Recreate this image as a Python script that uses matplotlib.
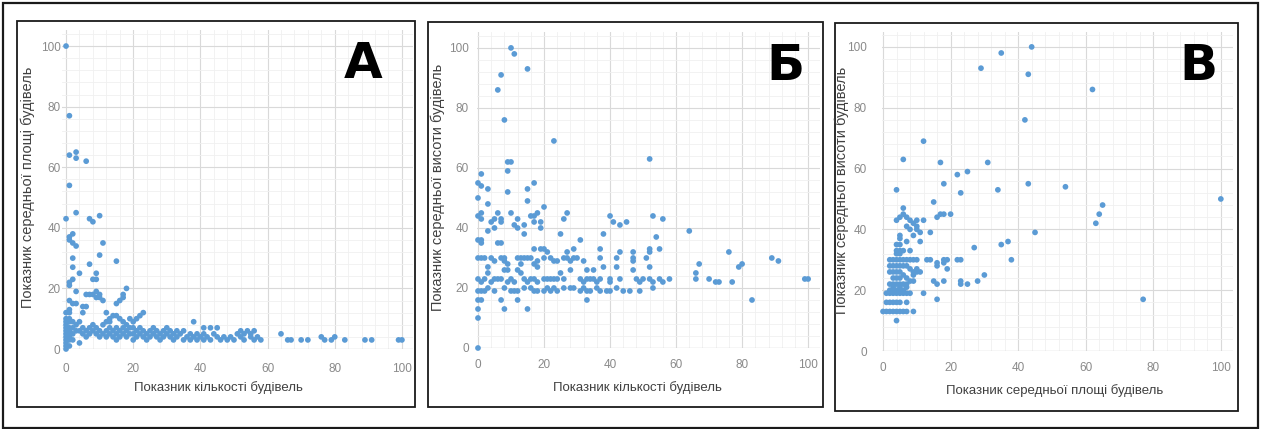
import matplotlib
matplotlib.use("Agg")
import matplotlib.pyplot as plt
from matplotlib.patches import Rectangle
from matplotlib.ticker import MultipleLocator

plt.rcParams['font.family'] = ['Liberation Sans', 'DejaVu Sans']

# panel A: buildings count index vs mean area index
a_pts = [(0,100),(1,77),(1,64),(3,65),(3,63),(6,62),(1,54),(0,43),(3,45),(7,43),(8,42),(10,44),
         (1,37),(2,38),(1,36),(2,35),(3,34),(11,35),(10,31),(15,29),(2,30),(7,28),(2,27),(4,25),
         (9,25),(9,23),(8,23),(1,22),(2,23),(1,21),(3,19),(2,15),(3,15),(1,16),(0,12),(1,13),(1,12),
         (6,18),(7,18),(8,18),(9,17),(9,19),(10,17),(11,16),(10,18),
         (18,20),(17,18),(17,17),(15,15),(16,16),
         (5,14),(6,14),(5,12),(4,9),(2,9),
         (12,12),(13,10),(14,11),(15,11),(12,9),(13,9),(16,10),
         (23,12),(22,11),(21,10),(19,10),(17,9),(20,9),(18,8),
         (38,9),(41,7),(43,7),(45,7),
         (0,0),(0,1),(0,2),(0,3),(0,4),(0,5),(0,6),(0,7),(0,8),(0,9),(0,10),
         (1,1),(1,3),(1,5),(1,7),(1,9),(1,10),(1,4),(1,6),(2,5),(2,7),(2,3),(3,6),(3,8),
         (4,2),(4,6),(5,7),(5,5),(6,4),(6,6),(7,5),(7,7),(8,6),(8,8),(9,5),(9,7),(10,6),(10,4),
         (11,8),(11,5),(12,6),(12,4),(13,5),(13,7),(14,4),(14,6),(15,3),(15,5),(15,7),(16,4),
         (16,6),(17,5),(17,7),(18,4),(18,6),(19,5),(19,7),(20,3),(20,5),(20,7),(21,4),(21,6),
         (22,5),(22,7),(23,4),(23,6),(24,5),(24,3),(25,6),(25,4),(26,5),(26,7),(27,4),(27,6),
         (28,5),(28,3),(29,6),(29,4),(30,5),(30,7),(31,4),(31,6),(32,5),(32,3),(33,4),(33,6),
         (34,5),(35,3),(35,6),(36,4),(37,5),(37,3),(38,4),(39,5),(39,3),(40,4),(41,5),(41,3),
         (42,4),(43,3),(44,5),(45,4),(46,3),(47,4),(48,3),(49,4),(50,3),(51,5),(52,6),(52,4),
         (53,5),(53,3),(54,6),(55,5),(55,4),(56,6),(56,3),(57,4),(58,3),
         (64,5),(66,3),(67,3),(70,3),(72,3),(76,4),(77,3),(79,3),(80,4),(83,3),(89,3),(91,3),
         (99,3),(100,3)]

# panel Б: buildings count index vs mean height index
b_pts = [(10,100),(11,98),(15,93),(7,91),(6,86),(8,76),(23,69),(52,63),(9,62),(10,62),(9,59),
         (1,58),(0,55),(1,54),(9,52),(3,53),(15,53),(17,55),(0,50),(3,48),(15,49),(20,47),
         (0,44),(1,45),(1,43),(4,42),(5,43),(6,45),(7,43),(7,42),(5,40),(3,39),(10,45),(11,41),
         (12,40),(12,43),(14,41),(14,38),(16,44),(17,44),(18,45),(17,42),(19,42),(19,40),
         (25,38),(26,43),(27,45),(31,36),(40,44),(41,42),(43,41),(45,42),(38,38),(53,44),
         (56,43),(54,37),(64,39),
         (0,36),(1,36),(1,35),(6,35),(7,35),(2,30),(0,30),(1,30),(3,27),(4,30),(5,29),(7,30),
         (8,30),(8,29),(9,28),(9,26),(12,30),(13,30),(14,30),(15,30),(12,26),(13,28),(17,33),
         (19,33),(18,29),(17,28),(18,27),(16,30),(20,33),(21,32),(20,30),(22,30),(23,29),
         (24,29),(26,30),(27,30),(27,32),(28,26),(29,33),(29,30),(30,30),(28,29),(32,29),
         (33,26),(35,26),(37,33),(37,30),(38,27),(42,30),(42,27),(43,32),(47,32),(47,30),
         (47,29),(47,26),(51,30),(52,33),(52,32),(55,33),(52,27),
         (0,23),(1,22),(2,23),(3,25),(4,22),(5,23),(6,23),(7,23),(8,26),(9,22),(10,23),(11,22),
         (13,25),(14,23),(15,22),(16,23),(17,23),(18,22),(20,23),(21,23),(22,23),(23,23),
         (24,23),(25,25),(26,23),(31,23),(32,22),(33,23),(34,23),(35,23),(36,22),(37,23),
         (40,23),(40,22),(43,23),(48,23),(49,22),(50,23),(52,23),(53,22),(55,23),(56,22),
         (58,23),(66,25),(66,23),(67,28),(70,23),(72,22),(73,22),(76,32),(77,22),(79,27),
         (80,28),(89,30),(91,29),(99,23),(100,23),(83,16),
         (0,19),(1,19),(2,19),(3,20),(5,19),(8,20),(10,19),(11,19),(12,19),(14,20),(16,20),
         (17,19),(18,19),(20,19),(21,20),(22,19),(23,20),(24,19),(26,20),(28,20),(29,20),
         (31,19),(32,20),(33,19),(34,19),(36,20),(37,19),(39,19),(40,19),(42,20),(44,19),
         (46,19),(49,19),(53,20),
         (0,16),(1,16),(0,13),(0,10),(0,0),(7,16),(8,13),(15,13),(12,16),(33,16)]

# panel В: mean area index vs mean height index
c_pts = [(44,100),(35,98),(29,93),(43,91),(62,86),(42,76),(12,69),(6,63),(17,62),(31,62),
         (22,58),(25,59),(4,53),(23,52),(34,53),(18,55),(43,55),(54,54),(100,50),(15,49),
         (65,48),(64,45),(63,42),
         (6,47),(5,44),(6,45),(7,44),(8,43),(4,43),(17,45),(18,45),(20,45),(16,44),(12,43),
         (9,42),(10,41),(10,40),(10,43),(11,39),(9,38),(11,36),(14,39),(7,41),(8,40),(5,38),
         (5,37),(7,36),(8,33),(45,39),(37,36),(35,35),(27,34),(38,30),(4,35),(5,35),
         (22,30),(23,30),(13,30),(14,30),(10,30),(18,30),(18,29),(16,29),(16,28),(19,27),
         (19,30),(9,30),(8,30),(7,30),(6,30),(5,30),(4,30),(3,30),(2,30),
         (30,25),(28,23),(23,23),(23,22),(25,22),(18,23),(15,23),(16,22),(12,19),(16,17),
         (77,17),(4,10),
         (4,33),(5,33),(6,33),(4,32),(5,32),
         (2,28),(3,28),(4,28),(5,28),(6,28),(7,28),(8,27),(9,26),(9,25),(10,26),(10,27),(11,26),
         (2,26),(3,26),(4,26),(5,26),(6,25),(3,24),(4,24),(5,24),
         (2,22),(3,22),(4,22),(5,22),(6,22),(7,22),(8,23),(9,23),(7,24),
         (2,20),(3,20),(4,20),(5,20),(6,20),(7,21),(3,21),(5,21),
         (1,19),(2,19),(3,19),(4,19),(5,19),(6,19),(7,19),(8,19),
         (1,16),(2,16),(3,16),(4,16),(5,16),(7,16),
         (0,13),(1,13),(2,13),(3,13),(4,13),(5,13),(6,13),(7,13),(9,13)]

x_labels = ['Показник кількості будівель', 'Показник кількості будівель',
            'Показник середньої площі будівель']
y_labels = ['Показник середньої площі будівель', 'Показник середньої висоти будівель',
            'Показник середньої висоти будівель']
letters = ['А', 'Б', 'В']

W, H = 1262, 429
fig = plt.figure(figsize=(W / 100, H / 100), dpi=100)
fig.patch.set_facecolor('white')

def frac(l, t, r, b):
    return [l / W, 1 - b / H, (r - l) / W, (b - t) / H]

def box(l, t, r, b, lw=1.3):
    fig.patches.append(Rectangle((l / W, 1 - b / H), (r - l) / W, (b - t) / H,
                                 transform=fig.transFigure, fill=False,
                                 edgecolor='#1a1a1a', linewidth=lw))

# outer frame and panel frames
box(3, 3, 1258, 428, lw=1.6)
panel_boxes = [(17, 21, 415, 407), (428, 22, 823, 407), (835, 23, 1238, 411)]
for pb in panel_boxes:
    box(*pb)

# plot areas (pixels) and data limits
areas = [(62, 30, 413, 349), (477, 32, 820, 348), (882, 32, 1233, 351)]
xlims = [(-1.2, 103.3), (-0.3, 103.6), (-0.3, 103.6)]
ylims = [(0, 105.3), (0, 105.3), (0, 104.9)]
ypads = [1, 6, 11]
xpads = [10, 8, 8]
xlab_pos = [(218, 388), (637, 388), (1055, 391)]
ylab_pos = [(28, 187), (438, 187), (842, 190)]
let_pos = [(363, 64), (785, 66), (1198, 66)]

for i, pts in enumerate([a_pts, b_pts, c_pts]):
    ax = fig.add_axes(frac(*areas[i]))
    xs = [p[0] for p in pts]
    ys = [p[1] for p in pts]
    ax.scatter(xs, ys, s=17, color='#5B9BD5', edgecolors='none', zorder=3, clip_on=False)
    ax.set_xlim(*xlims[i])
    ax.set_ylim(*ylims[i])
    ax.xaxis.set_major_locator(MultipleLocator(20))
    ax.yaxis.set_major_locator(MultipleLocator(20))
    ax.xaxis.set_minor_locator(MultipleLocator(4))
    ax.yaxis.set_minor_locator(MultipleLocator(4))
    ax.grid(True, which='major', color='#D9D9D9', linewidth=0.8)
    ax.grid(True, which='minor', color='#F0F0F0', linewidth=0.6)
    ax.set_axisbelow(True)
    for s in ax.spines.values():
        s.set_visible(False)
    ax.axhline(0, color='#D0D0D0', linewidth=0.9, zorder=1)
    ax.tick_params(which='both', length=0, labelsize=8.5, labelcolor='#8a8a8a')
    ax.tick_params(axis='y', pad=ypads[i])
    ax.tick_params(axis='x', pad=xpads[i])
    ax.set_xticks([0, 20, 40, 60, 80, 100])
    ax.set_yticks([0, 20, 40, 60, 80, 100])
    ax.set_facecolor('none')

    fig.text(xlab_pos[i][0] / W, 1 - xlab_pos[i][1] / H, x_labels[i],
             ha='center', va='center', fontsize=9.5, color='#404040')
    fig.text(ylab_pos[i][0] / W, 1 - ylab_pos[i][1] / H, y_labels[i],
             ha='center', va='center', fontsize=10.5, color='#404040', rotation=90)
    fig.text(let_pos[i][0] / W, 1 - let_pos[i][1] / H, letters[i],
             ha='center', va='center', fontsize=36, fontweight='bold',
             color='black', family='DejaVu Sans')

fig.savefig('out.png', dpi=100, facecolor='white')
